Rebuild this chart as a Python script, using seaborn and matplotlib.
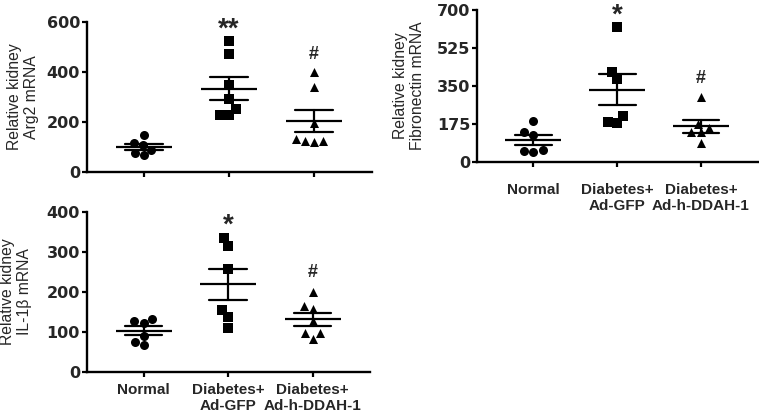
"""Kidney mRNA scatter panels: Arg2, Fibronectin and IL-1beta with mean +/- SEM."""

import matplotlib

matplotlib.use("Agg")
import matplotlib.pyplot as plt
import pandas as pd
import seaborn as sns

groups = ["Normal", "Diabetes+\nAd-GFP", "Diabetes+\nAd-h-DDAH-1"]
markers = ["o", "s", "^"]

arg2_normal = [150, 116, 107, 90, 67, 76]
arg2_gfp = [524, 470, 346, 293, 250, 227, 227]
arg2_ddah = [399, 338, 196, 126, 119, 123, 134]
arg2_marks = ["", "**", "#"]
arg2_yticks = [0, 200, 400, 600]

fn_normal = [189, 135, 123, 54, 46, 49]
fn_gfp = [620, 415, 381, 209, 177, 183]
fn_ddah = [300, 174, 135, 135, 157, 85]
fn_marks = ["", "*", "#"]
fn_yticks = [0, 175, 350, 525, 700]

il1b_normal = [127, 122, 132, 90, 75, 67]
il1b_gfp = [335, 315, 257, 154, 137, 110]
il1b_ddah = [200, 164, 156, 127, 96, 96, 81]
il1b_marks = ["", "*", "#"]
il1b_yticks = [0, 100, 200, 300, 400]

sns.set_theme(style="ticks")
plt.rcParams["font.family"] = ["Liberation Sans", "DejaVu Sans"]


def draw_panel(ax, values, marks, yticks, ylabel, show_xlabels, xpad, label_x):
    """Draw one scatter panel with mean and SEM bars."""
    df = pd.DataFrame({
        "group": [g for g, v in zip(groups, values) for _ in v],
        "value": [x for v in values for x in v],
    })
    for g, m in zip(groups, markers):
        sns.swarmplot(data=df[df["group"] == g], x="group", y="value", order=groups,
                      marker=m, color="black", size=6.5, ax=ax)
    sns.pointplot(data=df, x="group", y="value", order=groups, errorbar="se",
                  capsize=0.44, color="black", linestyle="none", marker="_",
                  markersize=40, markeredgewidth=1.6, err_kws={"linewidth": 1.6}, ax=ax)

    top = yticks[-1]
    for i, mark in enumerate(marks):
        if not mark:
            continue
        y = max(values[i]) + 0.12 * top
        if "*" in mark:
            ax.annotate(mark, xy=(i, y), xytext=(0, -5), textcoords="offset points",
                        ha="center", va="center", fontsize=20, fontweight="bold",
                        annotation_clip=False)
        else:
            ax.annotate(mark, xy=(i, y), ha="center", va="center",
                        fontsize=13, fontweight="bold", annotation_clip=False)

    ax.set_ylim(0, top)
    ax.set_yticks(yticks)
    ax.set_xlim(-0.67, 2.68)
    ax.set_xlabel("")
    ax.set_ylabel(ylabel, fontsize=11.3, linespacing=1.15)
    ax.yaxis.set_label_coords(label_x, 0.5)
    sns.despine(ax=ax)
    for side in ["left", "bottom"]:
        ax.spines[side].set_linewidth(1.7)
        ax.spines[side].set_color("black")
    ax.tick_params(axis="both", length=3.5, width=1.6, color="black")
    ax.tick_params(axis="y", pad=1.5)
    for lab in ax.get_yticklabels():
        lab.set_family("DejaVu Sans")
        lab.set_fontweight("bold")
        lab.set_fontsize(11.5)
    if show_xlabels:
        ax.set_xticks(range(len(groups)))
        ax.set_xticklabels(groups, fontsize=11, fontweight="bold", linespacing=1.2)
        ax.tick_params(axis="x", pad=xpad)
    else:
        ax.tick_params(axis="x", labelbottom=False)


fig = plt.figure(figsize=(7.59, 4.18), dpi=100)
ax1 = fig.add_axes([0.1146, 0.5885, 0.3755, 0.3589])
ax2 = fig.add_axes([0.6285, 0.6132, 0.3702, 0.3629])
ax3 = fig.add_axes([0.1146, 0.1108, 0.3729, 0.3828])

draw_panel(ax1, [arg2_normal, arg2_gfp, arg2_ddah], arg2_marks, arg2_yticks,
           "Relative kidney\nArg2 mRNA", False, 0, -0.17)
draw_panel(ax2, [fn_normal, fn_gfp, fn_ddah], fn_marks, fn_yticks,
           "Relative kidney\nFibronectin mRNA", True, 12, -0.185)
draw_panel(ax3, [il1b_normal, il1b_gfp, il1b_ddah], il1b_marks, il1b_yticks,
           "Relative kidney\nIL-1\u03b2 mRNA", True, 4.7, -0.194)

plt.savefig("out.png", dpi=100)
plt.close()
